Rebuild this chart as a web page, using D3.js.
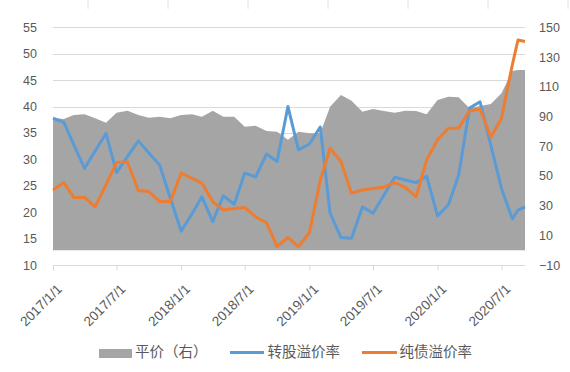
<!DOCTYPE html>
<html>
<head>
<meta charset="utf-8">
<script src="https://cdn.jsdelivr.net/npm/d3@7"></script>
<style>
  body { margin: 0; background: #fff; }
  svg { display: block; font-family: "Noto Sans CJK SC", "Noto Sans", sans-serif; }
  .tick text { fill: #595959; }
</style>
</head>
<body>
<svg width="570" height="372"></svg>
<script>
// dates of each observation
const dates = [
  '2017-01-01','2017-02-01','2017-03-01','2017-04-01','2017-05-01','2017-06-01',
  '2017-07-01','2017-08-01','2017-09-01','2017-10-01','2017-11-01','2017-12-01',
  '2018-01-01','2018-02-01','2018-03-01','2018-04-01','2018-05-01','2018-06-01',
  '2018-07-01','2018-08-01','2018-09-01','2018-10-01','2018-11-01','2018-12-01',
  '2019-01-01','2019-02-01','2019-03-01','2019-04-01','2019-05-01','2019-06-01',
  '2019-07-01','2019-08-01','2019-09-01','2019-10-01','2019-11-01','2019-12-01',
  '2020-01-01','2020-02-01','2020-03-01','2020-04-01','2020-05-01','2020-06-01',
  '2020-07-01','2020-08-01','2020-08-17','2020-09-06'
];
// 平价（右）
const parity = [
  88.9, 88.3, 91.0, 91.4, 88.7, 85.8, 92.5, 93.9, 91.0, 89.2, 89.8, 88.7,
  91.0, 91.4, 89.8, 93.9, 89.8, 89.8, 83.1, 83.8, 80.2, 79.7, 74.3, 79.7,
  78.6, 78.6, 96.6, 104.4, 100.6, 93.2, 95.0, 93.7, 92.5, 93.9, 93.7, 91.4,
  101.1, 103.3, 102.9, 95.5, 97.0, 98.4, 105.6, 120.6, 121.3, 121.3
];
// 转股溢价率
const convPremium = [
  37.8, 37.0, 32.8, 28.3, 31.6, 34.9, 27.5, 30.5, 33.5, 31.2, 28.9, 22.7,
  16.4, 19.7, 22.9, 18.2, 23.1, 21.5, 27.4, 26.7, 31.0, 29.6, 40.0, 31.8,
  32.9, 36.1, 19.8, 15.2, 15.05, 21.0, 19.8, 23.2, 26.6, 26.1, 25.6, 26.8,
  19.3, 21.4, 27.0, 39.7, 40.9, 32.6, 24.5, 18.7, 20.4, 21.0
];
// 纯债溢价率
const bondPremium = [
  24.2, 25.6, 22.8, 22.8, 21.0, 25.2, 29.4, 29.5, 24.1, 23.9, 22.0, 22.0,
  27.4, 26.4, 25.5, 22.0, 20.4, 20.7, 20.9, 19.1, 18.0, 13.5, 15.2, 13.5,
  16.1, 26.0, 32.1, 29.6, 23.6, 24.2, 24.5, 24.7, 25.6, 24.7, 22.9, 29.9,
  33.7, 35.9, 35.9, 39.2, 39.5, 34.2, 37.8, 47.9, 52.6, 52.3
];
const leftTicks = [10, 15, 20, 25, 30, 35, 40, 45, 50, 55];
const rightTicks = [-10, 10, 30, 50, 70, 90, 110, 130, 150];
const xTicks = ['2017-01-01','2017-07-01','2018-01-01','2018-07-01',
  '2019-01-01','2019-07-01','2020-01-01','2020-07-01'];

const parseDate = d3.timeParse('%Y-%m-%d');
const fmt = d3.timeFormat('%Y/%-m/%-d');

const rows = dates.map((d, i) => ({
  date: parseDate(d), parity: parity[i], conv: convPremium[i], bond: bondPremium[i]
}));

const svg = d3.select('svg');
const plotL = 53, plotR = 525, plotT = 27.3, plotB = 265;

const x = d3.scaleTime()
  .domain(d3.extent(rows, d => d.date))
  .range([plotL, plotR]);
const yL = d3.scaleLinear().domain([10, 55]).range([plotB, plotT]);
const yR = d3.scaleLinear().domain([-10, 150]).range([plotB, plotT]);

// faint tick marks left at the top edge
svg.append('g').selectAll('line')
  .data(d3.range(88, 570, 80))
  .enter().append('line')
  .attr('x1', d => d).attr('x2', d => d)
  .attr('y1', 0).attr('y2', 9)
  .attr('stroke', '#e0e0e0').attr('stroke-width', 1);

// gridlines
svg.append('g').selectAll('line')
  .data(leftTicks.slice(1))
  .enter().append('line')
  .attr('x1', plotL).attr('x2', plotR)
  .attr('y1', d => Math.round(yL(d)) + 0.5).attr('y2', d => Math.round(yL(d)) + 0.5)
  .attr('stroke', '#d9d9d9').attr('stroke-width', 1);

// area
const area = d3.area()
  .x(d => x(d.date))
  .y0(yR(0))
  .y1(d => yR(d.parity));
svg.append('path').datum(rows)
  .attr('d', area)
  .attr('fill', '#a5a5a5');

// lines
const lineConv = d3.line().x(d => x(d.date)).y(d => yL(d.conv));
const lineBond = d3.line().x(d => x(d.date)).y(d => yL(d.bond));
svg.append('path').datum(rows)
  .attr('d', lineConv)
  .attr('fill', 'none').attr('stroke', '#5b9bd5')
  .attr('stroke-width', 3).attr('stroke-linejoin', 'round');
svg.append('path').datum(rows)
  .attr('d', lineBond)
  .attr('fill', 'none').attr('stroke', '#ed7d31')
  .attr('stroke-width', 3).attr('stroke-linejoin', 'round');

// left axis
const gl = svg.append('g')
  .attr('transform', `translate(${plotL},0)`)
  .call(d3.axisLeft(yL).tickValues(leftTicks).tickSize(0).tickPadding(16));
gl.select('.domain').remove();
gl.selectAll('text').attr('font-size', '12.5px');

// right axis
const gr = svg.append('g')
  .attr('transform', `translate(${plotR},0)`)
  .call(d3.axisRight(yR).tickValues(rightTicks).tickSize(0).tickPadding(14));
gr.select('.domain').remove();
gr.selectAll('text').attr('font-size', '12.5px');

// bottom axis
const gx = svg.append('g')
  .attr('transform', `translate(0,${Math.round(plotB) + 0.5})`)
  .call(d3.axisBottom(x).tickValues(xTicks.map(parseDate)).tickFormat(fmt).tickSize(5).tickSizeOuter(0));
gx.select('.domain').attr('stroke', '#d9d9d9').attr('d', `M${plotL},0H${plotR}`);
gx.selectAll('.tick line').attr('stroke', '#d9d9d9');
gx.selectAll('text')
  .attr('font-size', '13.5px')
  .attr('text-anchor', 'end')
  .attr('transform', 'translate(6,21) rotate(-45)')
  .attr('dy', '0.35em')
  .attr('y', 0).attr('x', 0);

// legend
const lg = svg.append('g').attr('font-size', '14.5px').attr('fill', '#595959');
lg.append('rect').attr('x', 99).attr('y', 349).attr('width', 33).attr('height', 9).attr('fill', '#a5a5a5');
lg.append('text').attr('x', 135).attr('y', 356.5).text('平价（右）');
lg.append('line').attr('x1', 230).attr('x2', 264).attr('y1', 352.5).attr('y2', 352.5)
  .attr('stroke', '#5b9bd5').attr('stroke-width', 3);
lg.append('text').attr('x', 267.5).attr('y', 356.5).text('转股溢价率');
lg.append('line').attr('x1', 362).attr('x2', 397).attr('y1', 352.5).attr('y2', 352.5)
  .attr('stroke', '#ed7d31').attr('stroke-width', 3);
lg.append('text').attr('x', 399.5).attr('y', 356.5).text('纯债溢价率');
</script>
</body>
</html>
